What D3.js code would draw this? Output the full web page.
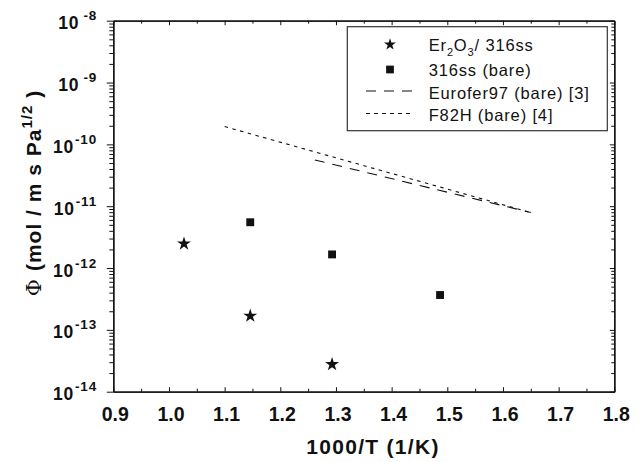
<!DOCTYPE html>
<html>
<head>
<meta charset="utf-8">
<script src="https://cdn.jsdelivr.net/npm/d3@7"></script>
<style>
  body { margin: 0; background: #fff; }
  text { font-family: Arial, "Liberation Sans", sans-serif; fill: #111; }
</style>
</head>
<body>
<script>
  // dados
  var coatedX = [1.027, 1.146, 1.293];
  var coatedY = [2.47e-12, 1.68e-13, 2.77e-14];
  var bareX = [1.146, 1.293, 1.487];
  var bareY = [5.5e-12, 1.66e-12, 3.66e-13];
  var euroferX = [1.262, 1.65];
  var euroferY = [5.6e-11, 7.9e-12];
  var f82hX = [1.1, 1.65];
  var f82hY = [1.94e-10, 7.9e-12];
  var xTicks = [0.9, 1.0, 1.1, 1.2, 1.3, 1.4, 1.5, 1.6, 1.7, 1.8];
  var yExps = [-14, -13, -12, -11, -10, -9, -8];

  var W = 641, H = 462;
  var pLeft = 113.3, pRight = 614.3, pTop = 20.7, pBottom = 391.7;

  var svg = d3.select("body").append("svg")
    .attr("width", W)
    .attr("height", H);

  // escalas
  var xScale = d3.scaleLinear().domain([0.9, 1.8]).range([pLeft, pRight]);
  var yScale = d3.scaleLog().domain([1e-14, 1e-8]).range([pBottom, pTop]);

  var yMajor = yExps.map(function(e) { return Math.pow(10, e); });
  var yMinor = [];
  yExps.slice(0, -1).forEach(function(e) {
    for (var k = 2; k < 10; k++) yMinor.push(k * Math.pow(10, e));
  });
  var xMinor = xTicks.slice(0, -1).map(function(v) { return +(v + 0.05).toFixed(2); });

  function styleAxis(g) {
    g.selectAll("path").attr("stroke", "#111").attr("stroke-width", 1.3);
    g.selectAll("line").attr("stroke", "#111").attr("stroke-width", 1);
  }

  // eixo x de baixo
  svg.append("g")
    .attr("transform", "translate(0," + pBottom + ")")
    .call(d3.axisBottom(xScale).tickValues(xMinor).tickSizeInner(-3).tickSizeOuter(0).tickFormat(""))
    .call(styleAxis);
  var xAx = svg.append("g")
    .attr("transform", "translate(0," + pBottom + ")")
    .call(d3.axisBottom(xScale).tickValues(xTicks).tickSizeInner(-4.5).tickSizeOuter(0)
      .tickPadding(15).tickFormat(d3.format(".1f")))
    .call(styleAxis);
  xAx.selectAll("text")
    .attr("font-size", 19.5).attr("font-weight", "bold")
    .attr("font-family", "Arial, 'Liberation Sans', sans-serif").attr("fill", "#111")
    .attr("dx", 1.5);

  // eixo x de cima
  svg.append("g")
    .attr("transform", "translate(0," + pTop + ")")
    .call(d3.axisTop(xScale).tickValues(xMinor).tickSizeInner(-3).tickSizeOuter(0).tickFormat(""))
    .call(styleAxis);
  svg.append("g")
    .attr("transform", "translate(0," + pTop + ")")
    .call(d3.axisTop(xScale).tickValues(xTicks).tickSizeInner(-4.5).tickSizeOuter(0).tickFormat(""))
    .call(styleAxis);

  // eixo y esquerdo
  svg.append("g")
    .attr("transform", "translate(" + pLeft + ",0)")
    .call(d3.axisLeft(yScale).tickValues(yMinor).tickSizeInner(4).tickSizeOuter(0).tickFormat(""))
    .call(styleAxis);
  svg.append("g")
    .attr("transform", "translate(" + pLeft + ",0)")
    .call(d3.axisLeft(yScale).tickValues(yMajor).tickSizeInner(6.5).tickSizeOuter(0).tickFormat(""))
    .call(styleAxis);

  // eixo y direito
  svg.append("g")
    .attr("transform", "translate(" + pRight + ",0)")
    .call(d3.axisRight(yScale).tickValues(yMinor).tickSizeInner(-3).tickSizeOuter(0).tickFormat(""))
    .call(styleAxis);
  svg.append("g")
    .attr("transform", "translate(" + pRight + ",0)")
    .call(d3.axisRight(yScale).tickValues(yMajor).tickSizeInner(-4.5).tickSizeOuter(0).tickFormat(""))
    .call(styleAxis);

  // rotulos do eixo y (10^n)
  var yLab = svg.selectAll(".ylab")
    .data(yExps)
    .enter()
    .append("text")
    .attr("class", "ylab")
    .attr("x", 97)
    .attr("y", function(e) { return yScale(Math.pow(10, e)) + 8.5; })
    .attr("text-anchor", "end")
    .attr("font-weight", "bold")
    .attr("font-size", 17.5)
    .attr("letter-spacing", 0.8);
  yLab.append("tspan").text("10");
  yLab.append("tspan")
    .attr("font-size", 13.5)
    .attr("dy", -9)
    .attr("dx", function(e) { return e > -10 ? 4 : 1; })
    .text(function(e) { return String(e); });

  // titulos dos eixos
  svg.append("text")
    .attr("x", 373)
    .attr("y", 454)
    .attr("text-anchor", "middle")
    .attr("font-weight", "bold")
    .attr("font-size", 21)
    .attr("letter-spacing", 1.3)
    .text("1000/T (1/K)");

  var yTitle = svg.append("text")
    .attr("transform", "translate(40.5,193) rotate(-90)")
    .attr("text-anchor", "middle")
    .attr("font-weight", "bold")
    .attr("font-size", 21)
    .attr("letter-spacing", 1);
  yTitle.append("tspan").attr("font-family", "'DejaVu Serif', 'Liberation Serif', serif").attr("font-weight", "normal").text("\u03A6");
  yTitle.append("tspan").text(" (mol / m s Pa");
  yTitle.append("tspan").attr("font-size", 15).attr("dy", -9).text("1/2");
  yTitle.append("tspan").attr("dy", 9).text(" )");

  // linhas
  var myLine = d3.line()
    .x(function(d) { return xScale(d[0]); })
    .y(function(d) { return yScale(d[1]); });

  svg.append("path")
    .datum(d3.zip(f82hX, f82hY))
    .attr("fill", "none")
    .attr("stroke", "#111")
    .attr("stroke-width", 1.1)
    .attr("stroke-dasharray", "3.5,4.5")
    .attr("d", myLine);
  svg.append("path")
    .datum(d3.zip(euroferX, euroferY))
    .attr("fill", "none")
    .attr("stroke", "#111")
    .attr("stroke-width", 1.1)
    .attr("stroke-dasharray", "10,8")
    .attr("d", myLine);

  // pontos
  var star = d3.symbol().type(d3.symbolStar).size(60);
  var square = d3.symbol().type(d3.symbolSquare).size(62);

  svg.selectAll(".star")
    .data(d3.zip(coatedX, coatedY))
    .enter()
    .append("path")
    .attr("class", "star")
    .attr("d", star)
    .attr("fill", "#111")
    .attr("transform", function(d) { return "translate(" + xScale(d[0]) + "," + yScale(d[1]) + ")"; });

  svg.selectAll(".sq")
    .data(d3.zip(bareX, bareY))
    .enter()
    .append("path")
    .attr("class", "sq")
    .attr("d", square)
    .attr("fill", "#111")
    .attr("transform", function(d) { return "translate(" + xScale(d[0]) + "," + yScale(d[1]) + ")"; });

  // legenda
  var lg = svg.append("g");
  lg.append("rect")
    .attr("x", 347.3).attr("y", 26.7)
    .attr("width", 260).attr("height", 104)
    .attr("fill", "#fff")
    .attr("stroke", "#333")
    .attr("stroke-width", 1.2);

  lg.append("path")
    .attr("d", d3.symbol().type(d3.symbolStar).size(44))
    .attr("fill", "#111")
    .attr("transform", "translate(390,44.5)");
  lg.append("path")
    .attr("d", d3.symbol().type(d3.symbolSquare).size(60))
    .attr("fill", "#111")
    .attr("transform", "translate(390,69.5)");
  lg.append("line")
    .attr("x1", 366).attr("x2", 412).attr("y1", 91).attr("y2", 91)
    .attr("stroke", "#111").attr("stroke-width", 1.1)
    .attr("stroke-dasharray", "10,8");
  lg.append("line")
    .attr("x1", 366).attr("x2", 412).attr("y1", 113.5).attr("y2", 113.5)
    .attr("stroke", "#111").attr("stroke-width", 1.1)
    .attr("stroke-dasharray", "4,4");

  var lgFont = 16.5, lgSpace = 0.85;
  var t1 = lg.append("text").attr("x", 428.7).attr("y", 51).attr("font-size", lgFont).attr("letter-spacing", lgSpace);
  t1.append("tspan").text("Er");
  t1.append("tspan").attr("font-size", 11).attr("dy", 4.5).text("2");
  t1.append("tspan").attr("dy", -4.5).text("O");
  t1.append("tspan").attr("font-size", 11).attr("dy", 4.5).text("3");
  t1.append("tspan").attr("dy", -4.5).text("/ 316ss");
  lg.append("text").attr("x", 428.7).attr("y", 75.5).attr("font-size", lgFont).attr("letter-spacing", lgSpace).text("316ss (bare)");
  lg.append("text").attr("x", 428.7).attr("y", 98.5).attr("font-size", lgFont).attr("letter-spacing", lgSpace).text("Eurofer97 (bare) [3]");
  lg.append("text").attr("x", 428.7).attr("y", 121).attr("font-size", lgFont).attr("letter-spacing", lgSpace).text("F82H (bare) [4]");
</script>
</body>
</html>
